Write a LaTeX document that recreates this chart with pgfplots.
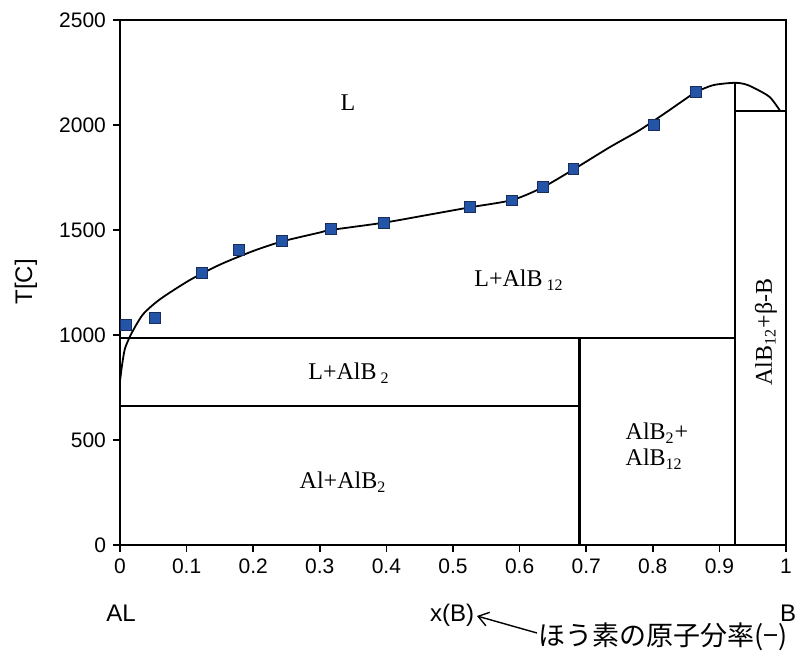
\documentclass[border=0pt]{standalone}
\usepackage{pgfplots}
\pgfplotsset{compat=1.18}
\usetikzlibrary{arrows.meta}
\usepackage{fontspec}
\setmainfont{Liberation Sans}
\newfontfamily\serif{Liberation Serif}
\newfontfamily\cjk{Noto Sans CJK JP}
\definecolor{markblue}{RGB}{36,84,168}
\definecolor{markedge}{RGB}{25,45,90}
\begin{document}
\begin{tikzpicture}
\useasboundingbox (-60pt,-59.5pt) rectangle (341pt,272.5pt);
\begin{axis}[
  scale only axis, width=333pt, height=262.5pt,
  xmin=0, xmax=1, ymin=0, ymax=2500,
  axis line style={line width=1.3pt},
  xtick pos=left, ytick pos=left,
  xtick={0,0.1,0.2,0.3,0.4,0.5,0.6,0.7,0.8,0.9,1},
  xticklabels={0,0.1,0.2,0.3,0.4,0.5,0.6,0.7,0.8,0.9,1},
  ytick={0,500,1000,1500,2000,2500},
  yticklabels={0,500,1000,1500,2000,2500},
  tick align=outside, major tick length=3.5pt,
  tick style={line width=0.8pt, black},
  ticklabel style={font=\fontsize{10.5}{12}\selectfont},
  clip=false,
]
% liquidus
\addplot[black, line width=0.9pt, smooth, tension=0.45] coordinates {
 (0,780) (0.003,855) (0.007,930) (0.0125,976) (0.02,1024) (0.035,1100)
 (0.06,1170) (0.105,1262) (0.15,1335) (0.20,1400) (0.2428,1445) (0.30,1488)
 (0.3163,1500) (0.3964,1535) (0.4605,1571) (0.5255,1608) (0.589,1643)
 (0.6346,1703) (0.6807,1788) (0.7357,1895) (0.78,1975) (0.82,2060)
 (0.845,2115) (0.865,2157) (0.891,2190) (0.923,2201) (0.94,2193) (0.956,2170)
 (0.976,2132) (0.991,2068)};
% phase boundaries
\addplot[black, line width=1.1pt] coordinates {(0,985) (0.923,985)};
\addplot[black, line width=1.1pt] coordinates {(0,662) (0.69,662)};
\addplot[black, line width=1.1pt] coordinates {(0.69,0) (0.69,985)};
\addplot[black, line width=1.1pt] coordinates {(0.923,0) (0.923,2201)};
\addplot[black, line width=1.1pt] coordinates {(0.923,2067) (1,2067)};
% data
\addplot[only marks, mark=square*, mark size=2.7pt,
  mark options={fill=markblue, draw=markedge, line width=0.4pt}] coordinates {
 (0.009,1048) (0.0525,1080) (0.123,1295) (0.179,1405) (0.2428,1449)
 (0.3163,1505) (0.3964,1535) (0.5255,1611) (0.589,1641) (0.6346,1705)
 (0.6807,1790) (0.802,2000) (0.865,2159)};
\end{axis}
% region labels
\begin{scope}[every node/.style={font=\serif\fontsize{12}{13}\selectfont, inner sep=0pt}]
\node at (114pt,221pt) {L};
\node at (199.5pt,132.5pt) {L+AlB\,\textsubscript{12}};
\node at (114.5pt,86pt) {L+AlB\,\textsubscript{2}};
\node at (111.5pt,31.5pt) {Al+AlB\textsubscript{2}};
\node[align=left] at (268.5pt,49.5pt) {AlB\textsubscript{2}+\\AlB\textsubscript{12}};
\node[rotate=90] at (323pt,106.5pt) {AlB\textsubscript{12}+β-B};
\end{scope}
% outer labels
\begin{scope}[every node/.style={font=\fontsize{12}{14}\selectfont, inner sep=0pt}]
\node[rotate=90] at (-47pt,131.5pt) {T[C]};
\node at (0.5pt,-34pt) {AL};
\node at (166pt,-35pt) {x(B)};
\node at (334pt,-34pt) {B};
\node[anchor=west, font=\cjk\fontsize{13.5}{15}\selectfont] at (209pt,-46pt) {ほう素の原子分率(−)};
\end{scope}
\draw[->, line width=0.7pt, >={Straight Barb[length=5pt,width=7pt]}] (208.5pt,-44pt) -- (178.5pt,-35.5pt);
\end{tikzpicture}
\end{document}
